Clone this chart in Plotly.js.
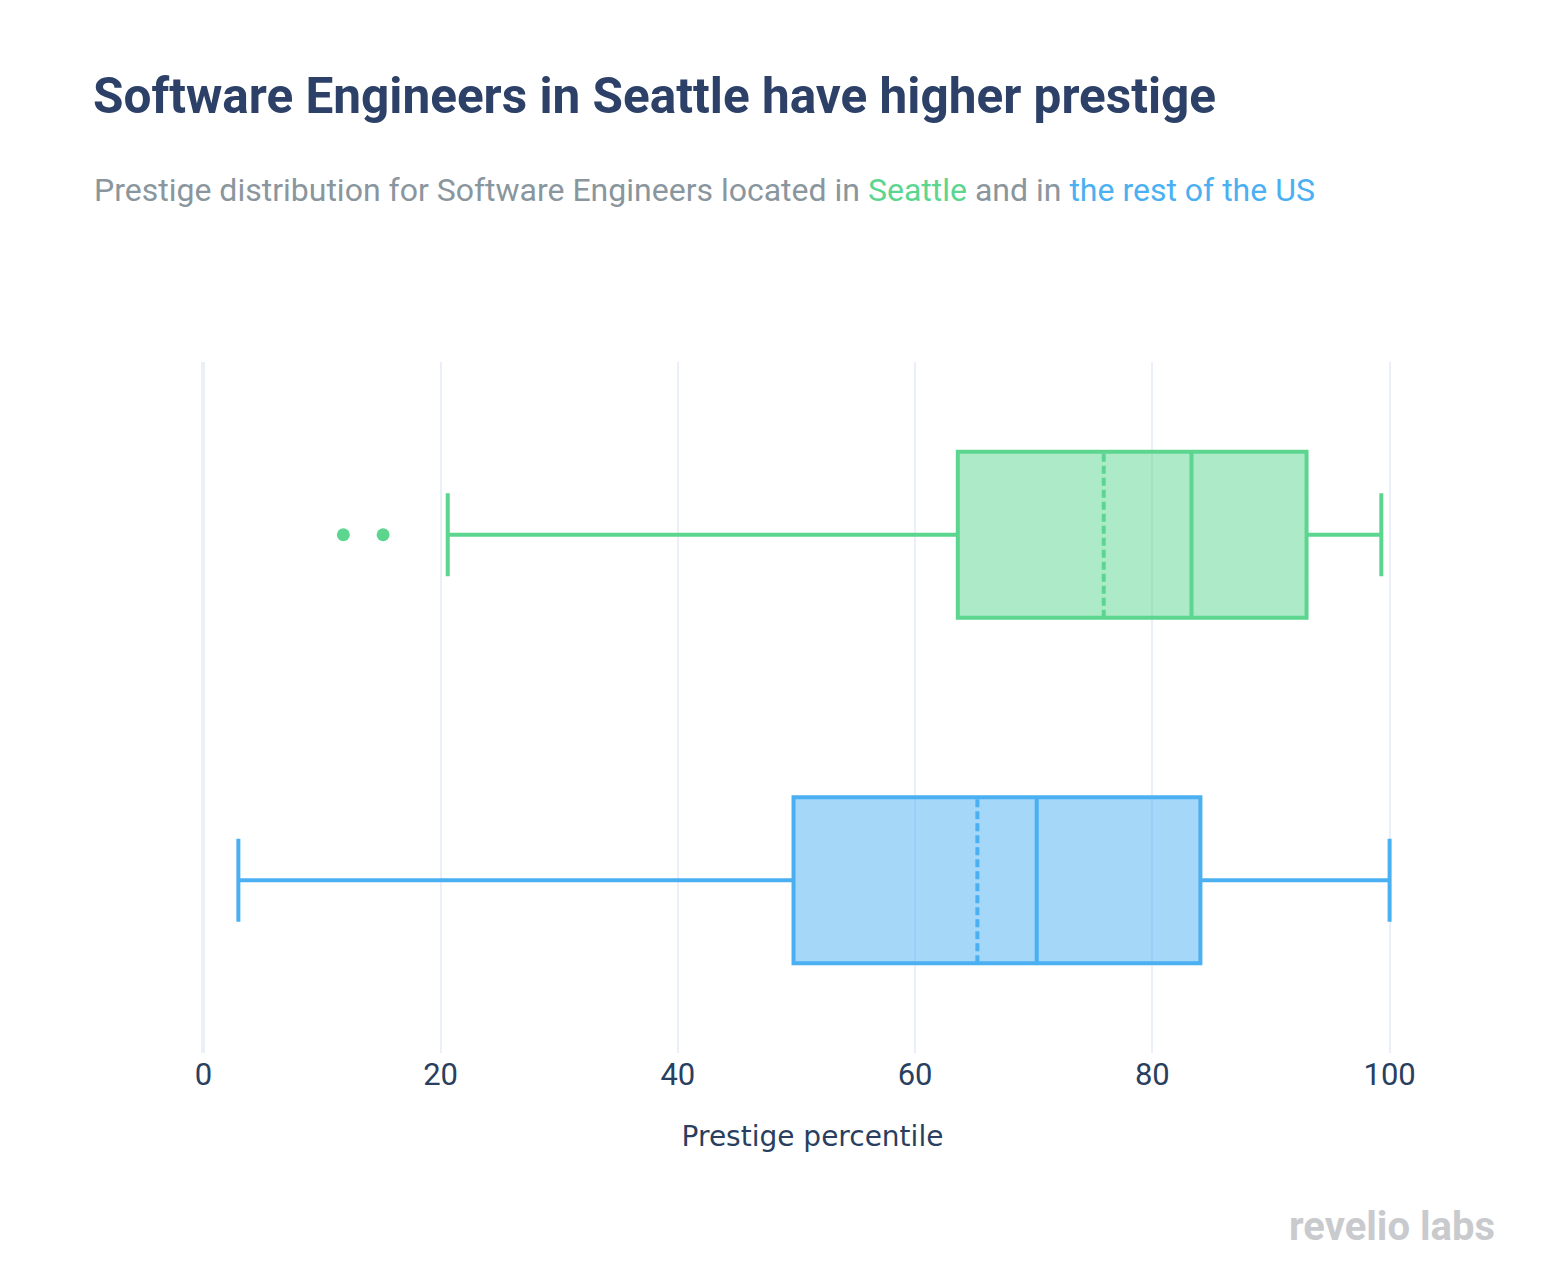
<!DOCTYPE html>
<html>
<head>
<meta charset="utf-8">
<script src="https://cdn.plot.ly/plotly-3.0.1.min.js"></script>
<style>html,body{margin:0;padding:0;background:#fff;}#chart{width:1564px;height:1268px;}</style>
</head>
<body>
<div id="chart"></div>
<script>
// Data
const groups = ["the rest of the US", "Seattle"];
const q1Values = [49.75, 63.6];
const medianValues = [70.25, 83.3];
const q3Values = [84.05, 93.0];
const lowerFence = [2.95, 20.6];
const upperFence = [100, 99.3];
const meanValues = [65.25, 75.9];
const seattleOutliers = [11.8, 15.15];
const tickValues = [0, 20, 40, 60, 80, 100];

const green = "#5cd68f";
const blue = "#4ab0f2";
const colors = [blue, green];

const traces = groups.map((g, i) => ({
  type: "box",
  orientation: "h",
  y: [g],
  q1: [q1Values[i]],
  median: [medianValues[i]],
  q3: [q3Values[i]],
  lowerfence: [lowerFence[i]],
  upperfence: [upperFence[i]],
  mean: [meanValues[i]],
  boxmean: true,
  boxpoints: false,
  width: 0.48,
  whiskerwidth: 0.5,
  line: {color: colors[i], width: 4},
  fillcolor: i === 0 ? "rgba(74,176,242,0.5)" : "rgba(92,214,143,0.5)",
  hoverinfo: "x",
  showlegend: false
}));

traces.push({
  type: "scatter",
  mode: "markers",
  x: seattleOutliers,
  y: seattleOutliers.map(() => groups[1]),
  marker: {color: green, size: 13},
  showlegend: false,
  hoverinfo: "x"
});

const plotLeft = 201, plotRight = 1424, plotTop = 362, plotBottom = 1053;
const W = 1564, H = 1268;
const pw = plotRight - plotLeft, ph = plotBottom - plotTop;

const layout = {
  width: W,
  height: H,
  paper_bgcolor: "#ffffff",
  plot_bgcolor: "#ffffff",
  margin: {l: plotLeft, r: W - plotRight, t: plotTop, b: H - plotBottom, pad: 0},
  font: {family: "Roboto, 'Open Sans', sans-serif", color: "#2a3f5f"},
  title: {
    text: "<b>Software Engineers in Seattle have higher prestige</b>",
    font: {family: "Roboto, sans-serif", size: 49.5, color: "#2d4067"},
    xref: "container", yref: "container",
    x: 93 / W, xanchor: "left",
    y: 1 - 96 / H, yanchor: "middle"
  },
  annotations: [
    {
      xref: "paper", yref: "paper",
      x: (92 - plotLeft) / pw, xanchor: "left",
      y: (plotBottom - 190) / ph, yanchor: "middle",
      showarrow: false,
      align: "left",
      text: "Prestige distribution for Software Engineers located in <span style='color:" + green + "'>Seattle</span> and in <span style='color:" + blue + "'>the rest of the US</span>",
      font: {family: "Roboto, sans-serif", size: 32, color: "#8a969d"}
    },
    {
      xref: "paper", yref: "paper",
      x: (1497 - plotLeft) / pw, xanchor: "right",
      y: (plotBottom - 1226) / ph, yanchor: "middle",
      showarrow: false,
      text: "<b>revelio labs</b>",
      font: {family: "Roboto, sans-serif", size: 40, color: "#c9cacd"}
    }
  ],
  xaxis: {
    range: [-0.2, 102.9],
    tickvals: tickValues,
    ticktext: tickValues.map(String),
    showgrid: true,
    gridcolor: "#EBF0F8",
    gridwidth: 2,
    zeroline: true,
    zerolinecolor: "#EBF0F8",
    zerolinewidth: 4,
    showline: false,
    ticks: "",
    ticklen: 0,
    tickfont: {family: "Roboto, sans-serif", size: 31, color: "#2a3f5f"},
    title: {
      text: "Prestige percentile",
      font: {family: "'DejaVu Sans', Verdana, sans-serif", size: 28, color: "#2a3f5f"},
      standoff: 34
    },
    automargin: false
  },
  yaxis: {
    type: "category",
    categoryorder: "array",
    categoryarray: groups,
    range: [-0.5, 1.5],
    showgrid: false,
    zeroline: false,
    showticklabels: false,
    ticks: "",
    showline: false
  },
  showlegend: false
};

Plotly.newPlot("chart", traces, layout, {displayModeBar: false, staticPlot: false});
</script>
</body>
</html>
